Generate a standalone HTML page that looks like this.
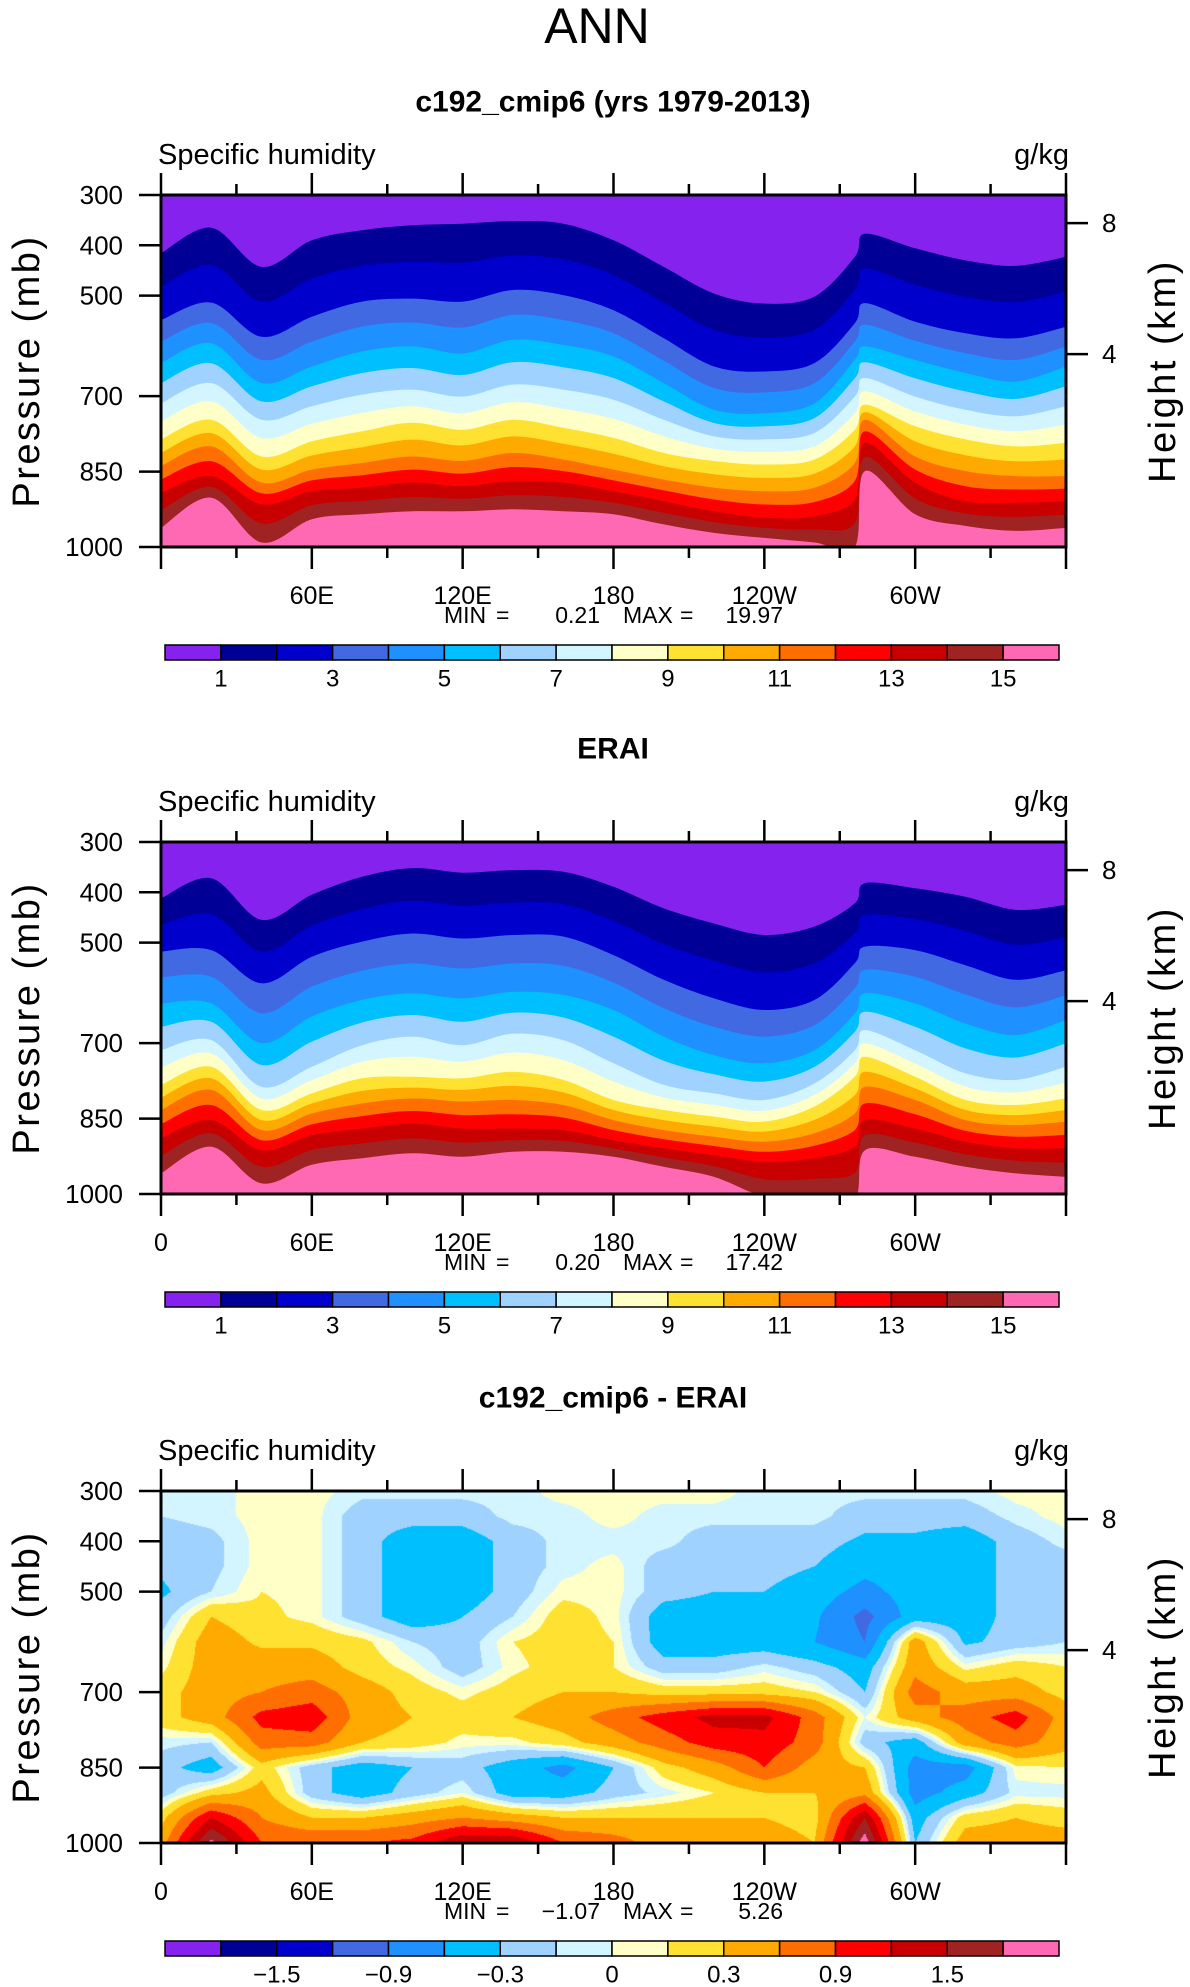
<!DOCTYPE html>
<html><head><meta charset="utf-8">
<style>
html,body{margin:0;padding:0;background:#fff;}
#wrap{position:relative;width:1190px;height:1987px;overflow:hidden;background:#fff;font-family:"Liberation Sans",sans-serif;}
canvas{position:absolute;left:161px;top:1491px;}
svg{position:absolute;left:0;top:0;}
</style></head>
<body>
<div id="wrap">
<canvas id="diffCanvas" width="905" height="352"></canvas>
<svg id="fig" width="1190" height="1987" viewBox="0 0 1190 1987"></svg>
</div>
<script>
// ---- data ----
const LONS=[0,20,40,60,80,100,120,140,160,180,200,220,240,260,276,280,300,320,340,360];
// panel 1 (model) contour pressures (mb) for q = 1,3,5,...,15 g/kg
const p1Lev1=[416,365,443,390,370,360,357,352,357,390,443,496,516,502,423,377,406,430,441,423];
const p1Lev3=[549,514,582,542,512,506,512,489,499,529,585,641,651,634,555,515,552,575,585,562];
const p1Lev5=[634,595,674,641,611,601,615,588,598,621,674,727,734,714,628,601,628,654,671,641];
const p1Lev7=[714,674,747,720,697,687,701,677,687,707,747,780,786,773,701,664,701,727,740,720];
const p1Lev9=[786,747,820,790,770,753,767,747,763,783,813,829,836,826,767,717,760,786,800,793];
const p1Lev11=[839,800,872,846,833,820,829,813,826,846,866,882,889,882,833,747,820,849,859,859];
const p1Lev13=[892,859,915,889,882,872,879,869,872,889,909,929,942,939,905,793,872,909,912,909];
const p1Lev15=[962,902,991,945,935,929,929,925,929,935,955,972,982,991,1000,849,935,958,968,962];
// panel 2 (ERAI)
const p2Lev1=[412,372,455,405,369,352,361,356,359,389,432,462,485,468,422,382,392,409,435,425];
const p2Lev3=[518,515,581,528,498,482,492,485,488,525,574,611,634,614,541,508,515,545,574,555];
const p2Lev5=[621,621,700,647,614,601,611,598,604,634,687,724,740,714,641,601,621,661,684,654];
const p2Lev7=[714,694,787,747,704,687,704,681,694,740,783,800,813,780,714,674,714,760,773,747];
const p2Lev9=[783,747,833,800,770,767,770,757,773,813,833,846,856,826,767,727,767,813,823,810];
const p2Lev11=[833,793,873,840,820,810,816,813,823,853,873,886,896,879,840,787,813,853,863,856];
const p2Lev13=[889,853,913,883,870,860,870,870,873,893,909,923,936,929,906,853,870,896,909,909];
const p2Lev15=[959,906,979,942,929,919,926,916,916,926,946,966,1005,1010,1010,913,926,946,959,966];
// panel 3 (difference) grid
const dLons=[0,20,40,60,80,100,120,140,160,180,200,220,240,260,280,300,320,340,360];
const dPres=[300,350,400,450,500,550,600,650,700,750,800,850,900,950,1000];
const d300=[-0.05,-0.05,0.05,0.05,-0.05,-0.05,-0.05,-0.05,0.05,0.05,0.05,0.05,-0.05,-0.05,-0.05,-0.05,-0.05,0.05,0.05];
const d350=[-0.1,-0.05,0.05,0.05,-0.2,-0.2,-0.2,-0.05,-0.05,0.05,-0.05,-0.05,-0.05,-0.05,-0.2,-0.2,-0.2,-0.05,0.05];
const d400=[-0.2,-0.15,0.05,0.05,-0.2,-0.45,-0.45,-0.2,-0.05,-0.05,-0.05,-0.2,-0.2,-0.2,-0.35,-0.35,-0.45,-0.2,-0.05];
const d450=[-0.25,-0.15,0.05,0.05,-0.2,-0.45,-0.45,-0.2,-0.05,0.05,-0.2,-0.2,-0.2,-0.3,-0.5,-0.45,-0.45,-0.2,-0.2];
const d500=[-0.35,-0.1,0.1,0.05,-0.2,-0.45,-0.45,-0.2,0.05,0.05,-0.2,-0.3,-0.3,-0.45,-0.7,-0.45,-0.45,-0.2,-0.2];
const d550=[-0.2,0.3,0.15,0.05,-0.2,-0.45,-0.3,-0.1,0.2,0.05,-0.45,-0.45,-0.45,-0.55,-1.0,-0.45,-0.45,-0.2,-0.2];
const d600=[-0.05,0.45,0.25,0.25,0.15,-0.1,-0.2,0.1,0.2,0.1,-0.45,-0.45,-0.45,-0.6,-0.9,0.45,-0.35,-0.2,-0.1];
const d650=[0.05,0.45,0.45,0.45,0.2,0.05,-0.2,0.05,0.2,0.1,-0.2,-0.2,-0.05,-0.2,-0.45,0.5,0.05,0.2,0.1];
const d700=[0.2,0.45,0.6,0.75,0.45,0.2,0.05,0.2,0.3,0.3,0.2,0.2,0.2,0.1,-0.3,0.75,0.45,0.45,0.2];
const d750=[0.2,0.45,1.0,1.1,0.45,0.3,0.2,0.3,0.45,0.75,1.05,1.3,1.3,0.75,0.0,0.45,0.75,1.05,0.45];
const d800=[-0.05,-0.1,0.75,0.75,0.3,0.2,0.05,0.05,0.2,0.45,0.75,1.05,1.1,0.75,-0.2,-0.45,0.45,0.75,0.4];
const d850=[-0.2,-0.45,0.2,-0.2,-0.45,-0.3,-0.2,-0.45,-0.7,-0.3,0.2,0.45,0.9,0.45,0.3,-0.75,-0.75,0.05,0.1];
const d900=[-0.2,0.2,0.4,-0.2,-0.45,-0.2,0.0,-0.45,-0.45,-0.2,-0.05,0.1,0.3,0.3,0.5,-0.75,-0.45,-0.05,-0.05];
const d950=[0.2,1.2,0.6,0.3,0.3,0.45,0.6,0.45,0.3,0.3,0.3,0.3,0.3,0.2,1.5,-0.45,0.2,0.3,0.2];
const d1000=[0.45,1.9,0.9,0.9,0.9,1.0,1.5,1.5,0.9,0.75,0.45,0.45,0.45,0.3,2.0,-0.3,0.45,0.45,0.45];
const diffLevels=[-1.8,-1.5,-1.2,-0.9,-0.6,-0.3,-0.1,0,0.1,0.3,0.6,0.9,1.2,1.5,1.8];
const cbLabels1=['1','','3','','5','','7','','9','','11','','13','','15'];
const cbLabels3=['','\u22121.5','','\u22120.9','','\u22120.3','','0','','0.3','','0.9','','1.5',''];
const presTicks=[300,400,500,700,850,1000];
const kmTicks=[8,4];
const lonTicks=[0,60,120,180,240,300];
const lonLabels=['0','60E','120E','180','120W','60W'];
const COLORS=['#8622ee','#000096','#0000cd','#4169e1','#1e90ff','#00bfff','#a0d2ff','#d2f5ff','#ffffc8','#ffe132','#ffaa00','#ff6e00','#ff0000','#c80000','#a02323','#ff69b4'];

// ---- layout ----
const X0=161,W=905,H=352,TOPS=[195,842,1491],OFF=[0,647,1296];
const NS='http://www.w3.org/2000/svg';
const svg=document.getElementById('fig');
function xOf(lon){return X0+lon/360*W;}
function yOf(p,top){return top+(p-300)/700*H;}
function el(tag,attrs,parent){const e=document.createElementNS(NS,tag);for(const k in attrs)e.setAttribute(k,attrs[k]);(parent||svg).appendChild(e);return e;}
function txt(s,x,y,size,anchor,parent,extra){const t=el('text',Object.assign({x:x,y:y,'font-size':size,'text-anchor':anchor||'start','dominant-baseline':'central','font-family':'Liberation Sans, sans-serif',fill:'#000'},extra||{}),parent);t.textContent=s;return t;}

let t=txt('ANN',597,26,50,'middle');

const titles=['c192_cmip6 (yrs 1979-2013)','ERAI','c192_cmip6 - ERAI'];
const mins=['0.21','0.20','\u22121.07'],maxs=['19.97','17.42','5.26'];

function levelsFrom(odd){
  const out=[];
  for(let i=0;i<odd.length;i++){out.push(odd[i]);if(i<odd.length-1)out.push(odd[i].map((v,j)=>(v+odd[i+1][j])/2));}
  return out;
}
const panelCurves=[levelsFrom([p1Lev1,p1Lev3,p1Lev5,p1Lev7,p1Lev9,p1Lev11,p1Lev13,p1Lev15]),
                   levelsFrom([p2Lev1,p2Lev3,p2Lev5,p2Lev7,p2Lev9,p2Lev11,p2Lev13,p2Lev15])];

function smoothPath(pts){
  let d='M'+pts[0][0].toFixed(1)+','+pts[0][1].toFixed(1);
  for(let i=0;i<pts.length-1;i++){
    const p0=pts[Math.max(0,i-1)],p1=pts[i],p2=pts[i+1],p3=pts[Math.min(pts.length-1,i+2)];
    const c1x=p1[0]+(p2[0]-p0[0])/6,c1y=p1[1]+(p2[1]-p0[1])/6;
    const c2x=p2[0]-(p3[0]-p1[0])/6,c2y=p2[1]-(p3[1]-p1[1])/6;
    d+='C'+c1x.toFixed(1)+','+c1y.toFixed(1)+' '+c2x.toFixed(1)+','+c2y.toFixed(1)+' '+p2[0].toFixed(1)+','+p2[1].toFixed(1);
  }
  return d;
}

for(let k=0;k<3;k++){
  const top=TOPS[k],off=OFF[k],bot=top+H;
  const g=el('g',{});
  
  t=txt(titles[k],613,102+off,30,'middle',g,{'font-weight':'bold'});
  
  t=txt('Specific humidity',158,155+off,29,'start',g);
  
  t=txt('g/kg',1069,155+off,29,'end',g);
  
  if(k<2){
    const cid='clip'+k;
    const cp=el('clipPath',{id:cid},g);el('rect',{x:X0,y:top,width:W,height:H},cp);
    const fg=el('g',{'clip-path':'url(#'+cid+')'},g);
    
    const bg=el('rect',{x:X0,y:top,width:W,height:H,fill:COLORS[0]},fg);
    
    panelCurves[k].forEach((curve,i)=>{
      const pts=curve.map((p,j)=>[xOf(LONS[j]),yOf(p,top)]);
      let d=smoothPath(pts);
      d+='L'+(X0+W)+','+(bot+5)+'L'+X0+','+(bot+5)+'Z';
      const path=el('path',{d:d,fill:COLORS[i+1]},fg);
      
      
    });
  }
  const fr=el('rect',{x:X0,y:top,width:W,height:H,fill:'none',stroke:'#000','stroke-width':3},g);
  
  for(let lon=0;lon<=360;lon+=30){
    const major=lon%60===0,len=major?22:11,x=xOf(lon);
    el('line',{x1:x,y1:top,x2:x,y2:top-len,stroke:'#000','stroke-width':2.5},g);
    el('line',{x1:x,y1:bot,x2:x,y2:bot+len,stroke:'#000','stroke-width':2.5},g);
  }
  lonTicks.forEach((lon,i)=>{
    if(k===0&&lon===0)return;
    const l=txt(lonLabels[i],xOf(lon),bot+49,25,'middle',g);
    
  });
  presTicks.forEach(p=>{
    const y=yOf(p,top);
    el('line',{x1:X0-22,y1:y,x2:X0,y2:y,stroke:'#000','stroke-width':2.5},g);
    const l=txt(String(p),123,y,26,'end',g);
    
  });
  kmTicks.forEach(h=>{
    const p=1013.25*Math.pow(1-2.25577e-5*h*1000,5.25588),y=yOf(p,top);
    el('line',{x1:X0+W,y1:y,x2:X0+W+22,y2:y,stroke:'#000','stroke-width':2.5},g);
    const l=txt(String(h),1102,y,26,'start',g);
    
  });
  const cy=top+H/2;
  t=txt('Pressure  (mb)',27,cy,38,'middle',g,{transform:'rotate(-90 27 '+cy+')','letter-spacing':'2.5'});
  
  t=txt('Height  (km)',1163,cy,38,'middle',g,{transform:'rotate(-90 1163 '+cy+')','letter-spacing':'2.5'});
  
  const my=615+off;
  txt('MIN',444,my,23,'start',g);txt('=',496,my,23,'start',g);
  txt(mins[k],600,my,23,'end',g);
  txt('MAX',623,my,23,'start',g);txt('=',680,my,23,'start',g);
  t=txt(maxs[k],783,my,23,'end',g);
  
  const cb=el('g',{},g);
  
  const bw=894/16;
  COLORS.forEach((c,i)=>{
    const r=el('rect',{x:165+i*bw,y:645+off,width:bw,height:15,fill:c,stroke:'#000','stroke-width':1.5},cb);
    
  });
  const labs=k<2?cbLabels1:cbLabels3;
  labs.forEach((s,i)=>{if(!s)return;const l=txt(s,165+(i+1)*bw,679+off,24,'middle',cb);
    });
}

const dGrid=[d300,d350,d400,d450,d500,d550,d600,d650,d700,d750,d800,d850,d900,d950,d1000];
(function(){
  const cv=document.getElementById('diffCanvas'),ctx=cv.getContext('2d');
  const img=ctx.createImageData(W,H);
  const rgb=COLORS.map(c=>[parseInt(c.substr(1,2),16),parseInt(c.substr(3,2),16),parseInt(c.substr(5,2),16)]);
  function idx(arr,v){let i=0;while(i<arr.length-2&&v>arr[i+1])i++;return i;}
  for(let py=0;py<H;py++){
    const p=300+(py+0.5)/H*700;const pi=idx(dPres,p);const fy=Math.min(1,Math.max(0,(p-dPres[pi])/(dPres[pi+1]-dPres[pi])));
    for(let px=0;px<W;px++){
      const lon=(px+0.5)/W*360;const li=idx(dLons,lon);const fx=(lon-dLons[li])/(dLons[li+1]-dLons[li]);
      const a=dGrid[pi][li],b=dGrid[pi][li+1],c=dGrid[pi+1][li],d=dGrid[pi+1][li+1];
      const v=(a*(1-fx)+b*fx)*(1-fy)+(c*(1-fx)+d*fx)*fy;
      let ci=0;while(ci<diffLevels.length&&v>=diffLevels[ci])ci++;
      const o=(py*W+px)*4,col=rgb[ci];
      img.data[o]=col[0];img.data[o+1]=col[1];img.data[o+2]=col[2];img.data[o+3]=255;
    }
  }
  ctx.putImageData(img,0,0);
})();
</script>
</body></html>
